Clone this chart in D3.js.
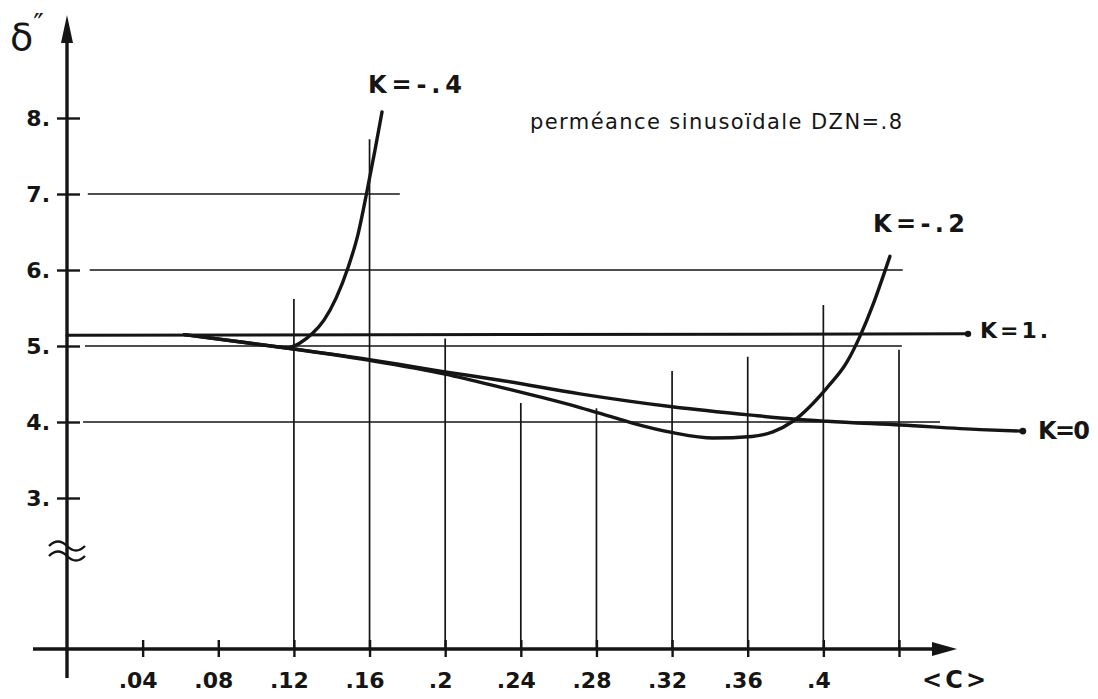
<!DOCTYPE html>
<html><head><meta charset="utf-8">
<script src="https://cdn.jsdelivr.net/npm/d3@7"></script>
<style>body{margin:0;background:#fff}svg{display:block}</style>
</head><body><svg id="c" width="1098" height="699"></svg>
<script>
// ---- data ----
const xTicks = [0.04,0.08,0.12,0.16,0.2,0.24,0.28,0.32,0.36,0.4,0.44];
const xTickLabels = [".04",".08",".12",".16",".2",".24",".28",".32",".36",".4",""];
const yTicks = [3,4,5,6,7,8];
const yTickLabels = ["3.","4.","5.","6.","7.","8."];

const kOneC = [0, 0.4765];
const kOneV = [5.14, 5.16];

const kZeroC = [0.062,0.09,0.117,0.16,0.2,0.229,0.2713,0.32,0.362,0.384,0.402,0.441,0.483,0.5055];
const kZeroV = [5.15,5.06,4.97,4.82,4.66,4.55,4.37,4.2,4.09,4.04,4.01,3.96,3.9,3.88];

const kM2C = [0.062,0.09,0.117,0.16,0.2,0.229,0.25,0.2713,0.289,0.3,0.3205,0.3416,0.3622,0.3733,0.3839,0.4019,0.4125,0.4194,0.4262,0.4315,0.4352];
const kM2V = [5.15,5.06,4.97,4.81,4.63,4.46,4.33,4.19,4.06,3.98,3.86,3.79,3.81,3.87,4.01,4.45,4.79,5.13,5.54,5.91,6.18];

const kM4C = [0.1169,0.1232,0.1296,0.1359,0.1423,0.1486,0.1539,0.1586,0.1629,0.1666];
const kM4V = [4.97,5.04,5.16,5.34,5.63,6.03,6.47,7.03,7.58,8.08];

// hand-drawn reference lines
const hGridV = [4,5,6,7];
const hGridFrom = [0.0085,0.0095,0.012,0.011];
const hGridTo = [0.4617,0.4415,0.442,0.176];
const vGridC = [0.12,0.16,0.2,0.24,0.28,0.32,0.36,0.4,0.44];
const vGridTop = [5.62,7.72,5.1,4.25,4.18,4.67,4.86,5.54,4.95];

const curveLabels = ["K=-.4","K=-.2","K=1.","K=0"];
const title = "perméance sinusoïdale DZN=.8";

// ---- drawing ----
const svg = d3.select("#c");
const ink = "#151515";
const font = "DejaVu Sans";
const x = d3.scaleLinear().domain([0,0.44]).range([67,899]);
const y = d3.scaleLinear().domain([3,8]).range([498,118]);
const axisY = y(3) + 151;   // broken axis: baseline below the break

// grid
svg.append("g").selectAll("line").data(hGridV).join("line")
  .attr("x1",(d,i)=>x(hGridFrom[i])).attr("x2",(d,i)=>x(hGridTo[i]))
  .attr("y1",d=>y(d)).attr("y2",d=>y(d))
  .attr("stroke",ink).attr("stroke-width",1.7);
svg.append("g").selectAll("line").data(vGridC).join("line")
  .attr("x1",d=>x(d)).attr("x2",d=>x(d))
  .attr("y1",(d,i)=>y(vGridTop[i])).attr("y2",axisY)
  .attr("stroke",ink).attr("stroke-width",1.7);

// axes lines
svg.append("line").attr("x1",33).attr("x2",945).attr("y1",axisY).attr("y2",axisY)
  .attr("stroke",ink).attr("stroke-width",3.4);
svg.append("line").attr("x1",x(0)).attr("x2",x(0)).attr("y1",30).attr("y2",678)
  .attr("stroke",ink).attr("stroke-width",3.4);
svg.append("path").attr("d",`M${x(0)},15 L${x(0)-6},43 L${x(0)+6},43 Z`).attr("fill",ink);
svg.append("path").attr("d",`M957,${axisY} L932,${axisY-7} L932,${axisY+7} Z`).attr("fill",ink);

// x axis ticks and labels through d3 axis
const xa = d3.axisBottom(x).tickValues(xTicks).tickFormat((d,i)=>xTickLabels[i]).tickSize(8).tickPadding(15);
const gx = svg.append("g").attr("transform",`translate(0,${axisY})`).call(xa);
gx.select(".domain").remove();
gx.selectAll(".tick line").attr("y1",-9).attr("y2",8).attr("stroke",ink).attr("stroke-width",2.4);
gx.selectAll(".tick text").attr("font-family",font).attr("font-size",22).attr("font-weight","bold")
  .attr("fill",ink).attr("dx",-5);

// y axis ticks
const ya = d3.axisLeft(y).tickValues(yTicks).tickFormat((d,i)=>yTickLabels[i]).tickSize(10).tickPadding(7);
const gy = svg.append("g").attr("transform",`translate(${x(0)},0)`).call(ya);
gy.select(".domain").remove();
gy.selectAll(".tick line").attr("x1",-10).attr("x2",13).attr("stroke",ink).attr("stroke-width",2.4);
gy.selectAll(".tick text").attr("font-family",font).attr("font-size",22).attr("font-weight","bold")
  .attr("fill",ink).attr("dy","0.35em");

// break marks
[0,10].forEach(o=>{
  svg.append("path").attr("d",`M49,${546+o} q9,-9 18,0 t18,0`)
    .attr("fill","none").attr("stroke",ink).attr("stroke-width",2.4);
});

// curves
const line = (cs,vs)=>d3.line().curve(d3.curveMonotoneX)
  .x((d,i)=>x(cs[i])).y((d,i)=>y(vs[i]))(cs);
const drawCurve=(cs,vs,w)=>svg.append("path").attr("d",line(cs,vs))
  .attr("fill","none").attr("stroke",ink).attr("stroke-width",w)
  .attr("stroke-linecap","round").attr("stroke-linejoin","round");
drawCurve(kOneC,kOneV,3);
drawCurve(kZeroC,kZeroV,3.4);
drawCurve(kM2C,kM2V,3.4);
drawCurve(kM4C,kM4V,3.4);
svg.append("circle").attr("cx",x(kOneC[1])).attr("cy",y(kOneV[1])).attr("r",3.2).attr("fill",ink);
svg.append("circle").attr("cx",x(kZeroC[kZeroC.length-1])).attr("cy",y(kZeroV[kZeroV.length-1])).attr("r",3.4).attr("fill",ink);

// labels
const lab = (t,px,py,fs,len)=>svg.append("text").attr("x",px).attr("y",py)
  .attr("font-family",font).attr("font-size",fs).attr("fill",ink).attr("font-weight","bold")
  .attr("textLength",len).attr("lengthAdjust","spacing")
  .attr("dominant-baseline","central").text(t);
lab(curveLabels[0],368,85,24,94);
lab(curveLabels[1],873,224,24,92);
lab(curveLabels[2],980,330,22,68);
lab(curveLabels[3],1038,431,24,52);
svg.append("text").attr("x",530).attr("y",122).attr("font-family",font)
  .attr("font-size",21).attr("fill",ink).attr("dominant-baseline","central")
  .attr("textLength",372).attr("lengthAdjust","spacing").text(title);
lab("<C>",922,680,24,64);
const yl = svg.append("text").attr("x",10).attr("y",50).attr("font-family",font)
  .attr("font-size",38).attr("fill",ink);
yl.append("tspan").text("δ");
yl.append("tspan").attr("dy",-16).attr("font-size",28).text("″");
</script></body></html>
